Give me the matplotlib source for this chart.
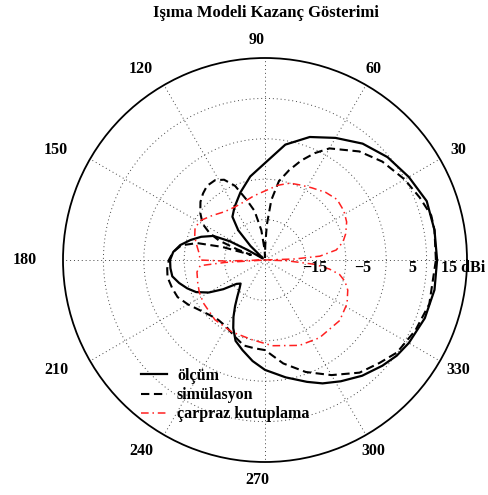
import numpy as np
import matplotlib
matplotlib.use("Agg")
import matplotlib.pyplot as plt

plt.rcParams['font.family'] = ['Liberation Serif', 'DejaVu Serif']
plt.rcParams['font.weight'] = 'bold'

# ölçüm (dBi)
olcum_aci = [0, 10, 20, 30, 40, 50, 60, 70, 80, 90, 100, 110, 120, 127, 132, 136, 139,
             146, 150, 152, 155, 160, 165, 170, 175, 180, 185, 190, 195, 200, 205, 210,
             215, 220, 224, 228, 233, 237, 241, 245, 250, 256, 263, 270, 280, 289, 295,
             302, 310, 318, 324, 330, 340, 350, 360]
olcum_db = [7.6, 7.6, 7.6, 6.1, 4.6, 2.6, -0.1, -2.6, -6.0, -11.0, -14.0, -17.2, -19.9,
            -21.6, -25.1, -30.0, -34.3, -34.3, -30.0, -25.1, -20.9, -18.2, -15.9, -13.7,
            -12.2, -11.5, -11.5, -11.7, -13.0, -14.5, -16.2, -18.9, -22.4, -25.8, -26.6,
            -25.6, -23.6, -21.4, -18.9, -16.4, -13.7, -12.0, -9.8, -7.8, -5.5, -3.1,
            -1.3, 0.4, 2.4, 4.1, 5.3, 6.1, 7.1, 7.6, 7.6]

# simülasyon (dBi)
sim_aci = [0, 10, 15, 22, 30, 40, 49, 60, 65, 70, 75, 80, 84, 87, 89, 90, 92, 97, 102,
           107, 112, 117, 122, 128, 133, 138, 144, 150, 154, 157, 159, 160, 161, 163,
           166, 170, 175, 180, 185, 190, 197, 203, 210, 218, 225, 232, 240, 248, 256,
           263, 270, 280, 290, 300, 310, 318, 325, 335, 345, 360]
sim_db = [7.3, 7.6, 7.6, 6.3, 4.9, 2.9, 0.6, -3.1, -5.8, -8.8, -12.0, -15.2, -20.1,
          -26.3, -31.3, -34.3, -32.5, -27.6, -22.6, -19.4, -15.2, -12.7, -11.7, -11.7,
          -12.5, -13.5, -15.2, -17.2, -19.7, -22.6, -27.6, -31.3, -30.0, -23.9, -17.7,
          -14.0, -12.2, -11.2, -10.7, -10.5, -11.0, -11.5, -13.0, -14.7, -15.7, -16.2,
          -15.9, -14.7, -13.2, -13.0, -12.7, -9.0, -5.5, -2.1, 1.4, 3.1, 4.9, 6.1, 7.1,
          7.3]

# çapraz kutuplama (dBi)
capraz_aci = [0, 2, 4, 8, 13, 18, 25, 32, 40, 48, 57, 65, 72, 80, 90, 100, 110, 120,
              130, 140, 148, 155, 162, 169, 175, 180, 181.5, 182.5, 183.5, 185, 190, 199,
              206, 215, 230, 245, 261, 275, 292, 305, 321, 332, 340, 345, 349, 352, 355,
              358, 360]
capraz_db = [-35, -27.6, -21.4, -17.2, -15.2, -14.0, -12.7, -12.0, -11.7, -12.5, -13.7,
             -14.5, -15.0, -16.2, -17.9, -18.9, -19.7, -19.9, -19.4, -17.9, -16.4, -15.9,
             -16.7, -17.9, -18.7, -18.9, -25.1, -35, -25.1, -18.9, -17.9, -17.4, -16.9,
             -16.4, -15.7, -15.4, -15.0, -13.7, -12.2, -11.5, -11.2, -12.0, -13.2, -14.5,
             -16.2, -18.9, -22.6, -29.6, -35]

r_min, r_max = -35, 15
halka = [-25, -15, -5, 5]
halka_etiket = ['\u221215', '\u22125', '5', '15 dBi']
halka_etiket_r = [-22.6, -10.7, 1.6, 14.0]
aci_etiket = list(range(30, 360, 30))

fig = plt.figure(figsize=(4.89, 4.95), dpi=100)
ax = fig.add_axes([63 / 489, 33 / 495, 404 / 489, 404 / 495], projection='polar')
ax.set_ylim(r_min, r_max)

ax.plot(np.radians(olcum_aci), olcum_db, color='k', lw=1.6, label='ölçüm')
ax.plot(np.radians(sim_aci), sim_db, color='k', lw=1.5, dashes=(4, 2.2), label='simülasyon')
ax.plot(np.radians(capraz_aci), capraz_db, color='#ff2020', lw=1.1,
        dashes=(5, 2.5, 1, 2.5), label='çarpraz kutuplama')

# noktalı ızgara
ax.set_xticks(np.radians(np.arange(0, 360, 30)))
ax.set_yticks(halka)
ax.set_xticklabels([])
ax.set_yticklabels([])
ax.grid(True, color='#444444', lw=0.7, dashes=(1, 3))
ax.spines['polar'].set_linewidth(1.3)
ax.spines['polar'].set_color('k')

for r, txt in zip(halka_etiket_r, halka_etiket):
    ax.text(0, r, txt, ha='center', va='top', fontsize=11.5, fontweight='bold')

rx, ry, kay = 232 / 404, 220 / 404, 8 / 404
for a in aci_etiket:
    t = np.radians(a)
    ax.text(0.5 + rx * np.cos(t) - kay, 0.5 + ry * np.sin(t), str(a),
            transform=ax.transAxes, ha='center', va='center',
            fontsize=11.5, fontweight='bold')

fig.text(266 / 489, 1 - 13 / 495, 'Işıma Modeli Kazanç Gösterimi', ha='center',
         va='center', fontsize=12, fontweight='bold')

ax.legend(loc='upper left', bbox_to_anchor=(133 / 489, 1 - 360 / 495),
          bbox_transform=fig.transFigure, frameon=False, fontsize=11.5,
          handlelength=1.65, handletextpad=0.6, labelspacing=0.2, borderpad=0)

fig.savefig('out.png', dpi=100)
